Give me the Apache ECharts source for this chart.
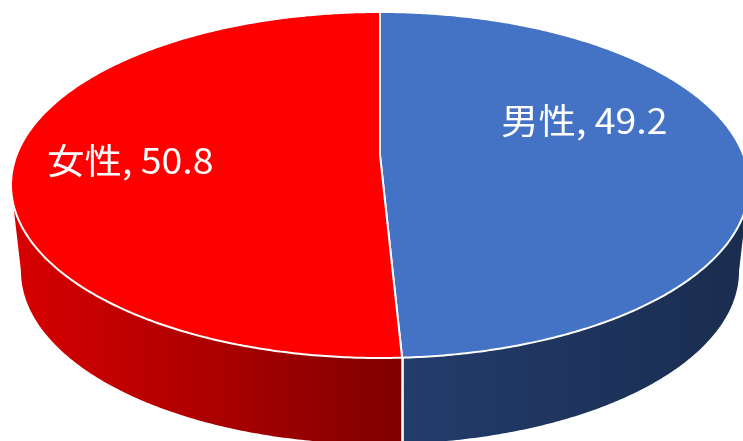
<!DOCTYPE html>
<html>
<head>
<meta charset="utf-8">
<style>html,body{margin:0;background:#fff}</style>
<script src="https://cdn.jsdelivr.net/npm/echarts@6/dist/echarts.min.js"></script>
</head>
<body>
<div id="main" style="width:743px;height:441px"></div>
<script>
  const categories = ['男性', '女性'];
  const values = [49.2, 50.8];

  // looks: top colour, wall gradient, label spot
  const topColors = ['#4472c4', '#ff0000'];
  const wallColors = [
    { from: '#233c6c', to: '#1a2d50', x: 403, x2: 743 },
    { from: '#d80000', to: '#800000', x: 14, x2: 403 }
  ];
  const labelSpots = [[501, 121], [47, 161]];

  // perspective disc, u/v on the unit circle
  const persp = -0.1734;
  const topDisc = { cx: 380, a: 155, b: 140.92, A: 363.4, dy: 0 };
  const baseDisc = { cx: 380, a: 155, b: 140.92, A: 353.6, dy: 86 };
  const wallFrom = 100, wallTo = 260;

  const project = (disc, deg) => {
    const r = deg * Math.PI / 180;
    const u = Math.sin(r), v = -Math.cos(r);
    const w = 1 + persp * v;
    return [disc.cx + disc.A * u / w, (disc.a + disc.b * v) / w + disc.dy];
  };
  const arc = (disc, d0, d1) => {
    const pts = [];
    const n = Math.max(2, Math.ceil(Math.abs(d1 - d0) * 2));
    for (let i = 0; i <= n; i++) pts.push(project(disc, d0 + (d1 - d0) * i / n));
    return pts;
  };

  const total = values.reduce((a, b) => a + b, 0);
  const startDeg = (idx) => values.slice(0, idx).reduce((a, b) => a + b, 0) / total * 360;

  const renderItem = (params, api) => {
    const i = params.dataIndex;
    const d0 = startDeg(i);
    const d1 = d0 + api.value(0) / total * 360;
    const children = [];

    const w0 = Math.max(d0, wallFrom), w1 = Math.min(d1, wallTo);
    if (w1 > w0) {
      const wc = wallColors[i];
      children.push({
        type: 'polygon',
        shape: { points: arc(topDisc, w0, w1).concat(arc(baseDisc, w1, w0)) },
        style: {
          fill: { type: 'linear', x: wc.x, y: 0, x2: wc.x2, y2: 0, global: true,
            colorStops: [{ offset: 0, color: wc.from }, { offset: 1, color: wc.to }] }
        }
      });
    }
    // divider on the front wall, stays vertical
    if (d0 > wallFrom && d0 < wallTo) {
      const a = project(topDisc, d0), b = project(baseDisc, d0);
      children.push({
        type: 'line',
        z2: 5,
        shape: { x1: a[0] + 0.5, y1: a[1], x2: a[0] + 0.5, y2: b[1] + 4 },
        style: { stroke: '#fff', lineWidth: 2.5 }
      });
    }
    const center = [topDisc.cx, topDisc.a];
    children.push({
      type: 'polygon',
      z2: 10,
      shape: { points: [center].concat(arc(topDisc, d0, d1)) },
      style: { fill: topColors[i], stroke: '#fff', lineWidth: 2, lineJoin: 'round' }
    });
    children.push({
      type: 'text',
      z2: 20,
      x: labelSpots[i][0],
      y: labelSpots[i][1],
      scaleX: 1.07,
      style: {
        text: categories[i] + ', ' + api.value(0),
        fill: '#fff',
        fontSize: 35,
        fontFamily: '"Noto Sans CJK JP"',
        verticalAlign: 'middle',
        align: 'left'
      }
    });
    return { type: 'group', children };
  };

  const myChart = echarts.init(document.getElementById('main'));
  myChart.setOption({
    animation: false,
    backgroundColor: '#fff',
    series: [{
      type: 'custom',
      coordinateSystem: 'none',
      silent: true,
      renderItem,
      data: values.map((v, i) => ({ name: categories[i], value: [v] }))
    }]
  });
</script>
</body>
</html>
